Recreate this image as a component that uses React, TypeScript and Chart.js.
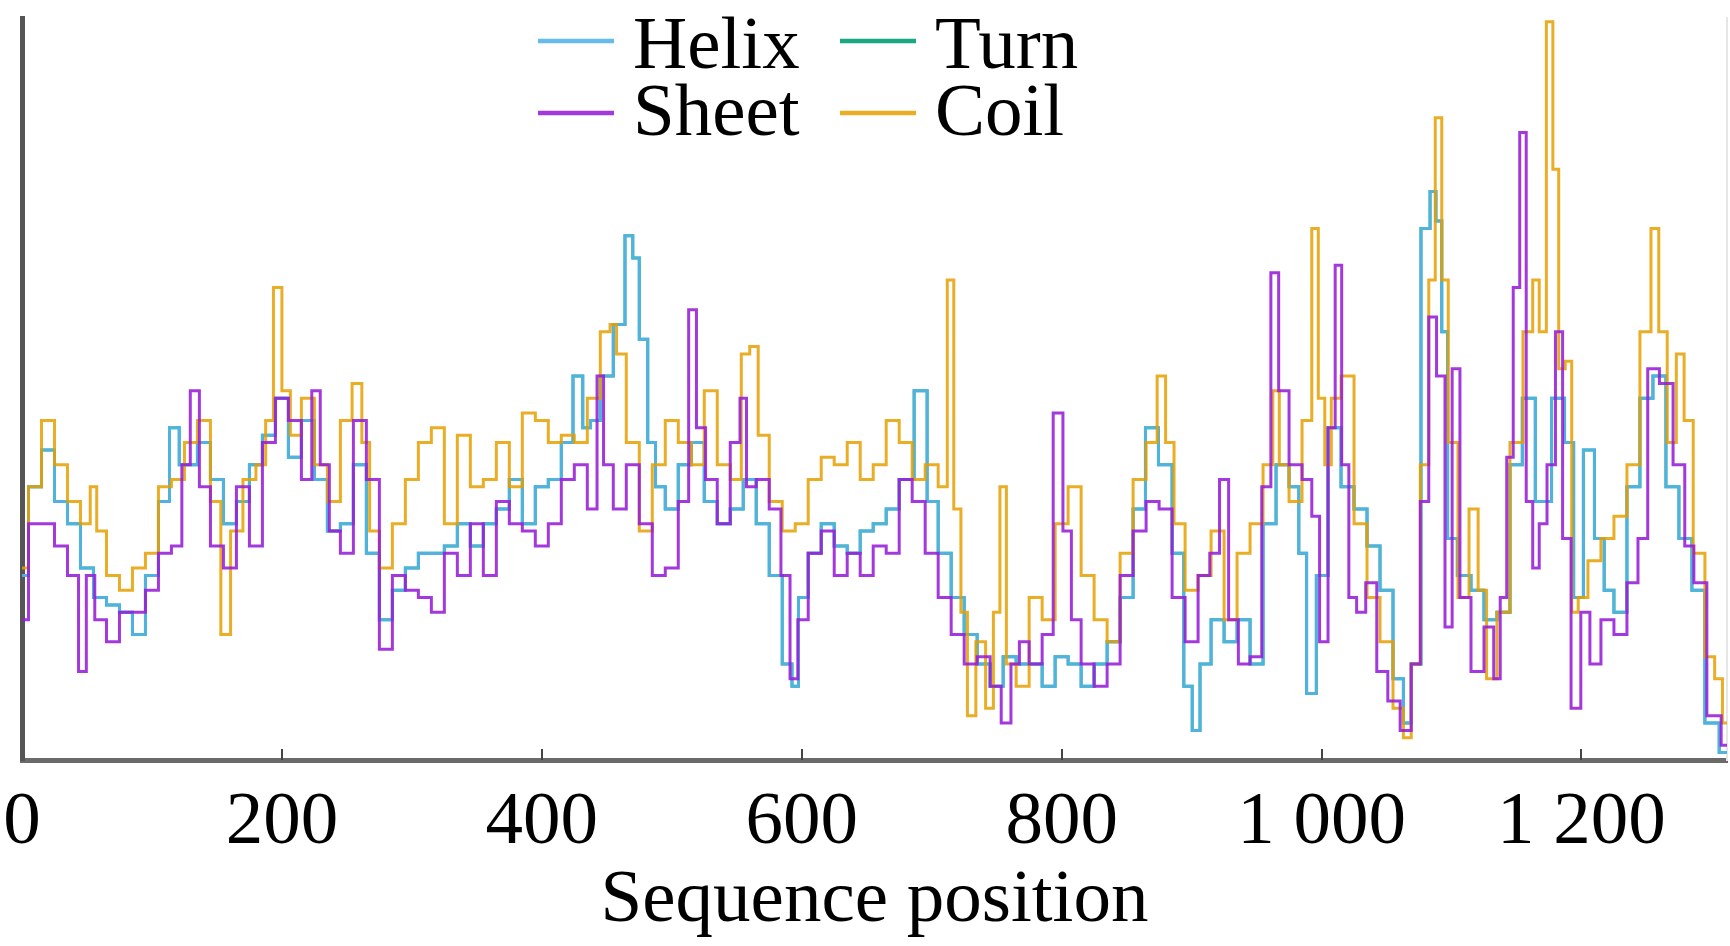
import React, { useEffect, useRef } from 'react';
import { Chart, registerables } from 'chart.js';

Chart.register(...registerables);

type Pt = [number, number];

// Sequence positions for the x-axis tick labels
const xTickValues = [0, 200, 400, 600, 800, 1000, 1200];
const seqLength = 1312;

// [sequence position, propensity (0-100, arbitrary units)]
const helix: Pt[] = [
  [0, 25], [10, 37], [20, 42], [30, 35], [40, 32], [50, 26], [60, 22], [70, 21], [80, 20], [90, 17],
  [100, 25], [110, 35], [117, 45], [125, 40], [130, 40], [140, 43], [150, 38], [160, 32], [170, 35], [180, 40],
  [190, 44], [200, 49], [210, 41], [220, 46], [230, 38], [240, 31], [250, 32], [260, 40], [270, 28], [280, 19],
  [290, 23], [300, 26], [310, 28], [320, 28], [330, 29], [340, 32], [350, 29], [360, 32], [370, 34], [380, 38],
  [390, 32], [400, 37], [410, 38], [420, 43], [428, 52], [435, 45], [440, 46], [450, 52], [460, 59], [468, 71],
  [472, 68], [478, 57], [485, 43], [490, 37], [500, 34], [510, 40], [520, 43], [530, 35], [540, 32], [550, 34],
  [560, 38], [570, 32], [580, 25], [590, 13], [595, 10], [600, 22], [610, 28], [620, 32], [630, 29], [640, 28],
  [650, 31], [660, 32], [670, 34], [680, 38], [693, 50], [700, 35], [710, 28], [720, 22], [730, 17], [740, 13],
  [750, 10], [760, 14], [770, 13], [780, 13], [790, 10], [800, 14], [810, 13], [820, 10], [830, 13], [840, 16],
  [850, 22], [860, 34], [869, 45], [880, 40], [890, 28], [898, 10], [903, 4], [910, 13], [920, 19], [930, 16],
  [940, 19], [950, 13], [960, 32], [970, 40], [980, 37], [985, 28], [992, 9], [1000, 25], [1010, 45], [1020, 37],
  [1030, 34], [1040, 29], [1050, 23], [1060, 11], [1066, 5], [1072, 13], [1081, 72], [1086, 77], [1090, 73], [1095, 58],
  [1099, 30], [1110, 25], [1120, 23], [1130, 19], [1140, 20], [1150, 40], [1159, 49], [1170, 35], [1184, 49], [1190, 43],
  [1198, 22], [1205, 42], [1215, 30], [1220, 23], [1230, 20], [1240, 37], [1250, 49], [1260, 52], [1270, 37], [1280, 30],
  [1290, 23], [1300, 5], [1312, 1],
];

const sheet: Pt[] = [
  [0, 19], [10, 32], [20, 32], [30, 29], [40, 25], [47, 12], [52, 25], [60, 19], [70, 16], [80, 20],
  [90, 20], [100, 23], [110, 28], [120, 29], [126, 40], [133, 50], [140, 37], [150, 29], [160, 26], [170, 37],
  [180, 29], [190, 43], [200, 49], [210, 46], [220, 38], [226, 50], [233, 40], [240, 31], [250, 28], [260, 46],
  [270, 38], [280, 15], [290, 25], [300, 23], [310, 22], [320, 20], [330, 28], [340, 25], [350, 32], [360, 25],
  [370, 35], [380, 32], [390, 31], [400, 29], [410, 32], [420, 38], [430, 40], [440, 34], [445, 52], [450, 40],
  [460, 34], [470, 40], [480, 32], [490, 25], [500, 26], [510, 35], [516, 61], [522, 45], [530, 38], [540, 32],
  [550, 43], [555, 49], [560, 37], [570, 38], [580, 34], [588, 25], [594, 11], [600, 19], [610, 28], [620, 31],
  [630, 25], [640, 28], [650, 25], [660, 29], [670, 28], [680, 38], [690, 35], [700, 28], [710, 22], [720, 17],
  [730, 13], [740, 14], [750, 10], [757, 5], [765, 13], [770, 16], [780, 13], [790, 17], [797, 47], [805, 31],
  [810, 19], [820, 13], [830, 10], [840, 13], [850, 25], [860, 31], [870, 35], [880, 34], [890, 22], [900, 16],
  [910, 25], [918, 28], [925, 38], [932, 19], [940, 13], [950, 14], [958, 37], [964, 66], [970, 50], [980, 40],
  [990, 38], [995, 33], [1002, 16], [1008, 45], [1013, 67], [1018, 40], [1024, 22], [1030, 20], [1038, 24], [1047, 12],
  [1055, 8], [1066, 4], [1072, 13], [1080, 35], [1085, 60], [1092, 52], [1098, 18], [1103, 53], [1110, 22], [1120, 12],
  [1130, 18], [1135, 11], [1140, 22], [1145, 41], [1150, 64], [1155, 85], [1160, 35], [1165, 26], [1170, 32], [1177, 40],
  [1183, 58], [1188, 30], [1196, 7], [1203, 20], [1210, 13], [1220, 19], [1230, 17], [1240, 24], [1247, 30], [1255, 53],
  [1265, 51], [1276, 40], [1283, 29], [1290, 24], [1303, 6], [1312, 2],
];

const coil: Pt[] = [
  [0, 26], [10, 37], [20, 46], [30, 40], [40, 35], [50, 32], [55, 37], [60, 31], [70, 25], [80, 23],
  [90, 26], [100, 28], [110, 37], [120, 38], [130, 43], [140, 46], [150, 35], [156, 17], [165, 31], [175, 38],
  [185, 40], [190, 46], [197, 64], [203, 50], [210, 44], [220, 49], [230, 40], [240, 35], [250, 46], [258, 51],
  [265, 43], [270, 31], [280, 26], [290, 32], [300, 38], [310, 43], [320, 45], [330, 32], [340, 44], [350, 37],
  [360, 38], [370, 43], [380, 37], [390, 47], [400, 46], [410, 43], [420, 44], [430, 43], [440, 49], [450, 58],
  [455, 59], [460, 55], [470, 43], [480, 31], [490, 40], [500, 46], [510, 43], [520, 40], [530, 50], [540, 40],
  [550, 38], [557, 55], [563, 56], [570, 44], [580, 35], [590, 31], [600, 32], [610, 38], [620, 41], [630, 40],
  [640, 43], [650, 38], [660, 40], [670, 46], [680, 43], [690, 38], [700, 40], [710, 37], [714, 65], [720, 34],
  [725, 20], [730, 6], [738, 16], [745, 7], [750, 20], [755, 37], [760, 13], [770, 10], [780, 22], [790, 19],
  [800, 32], [810, 37], [820, 25], [830, 19], [840, 16], [850, 28], [860, 38], [870, 43], [877, 52], [883, 43],
  [890, 32], [900, 23], [910, 25], [920, 31], [930, 19], [940, 28], [950, 32], [960, 40], [965, 50], [970, 40],
  [980, 35], [990, 46], [995, 72], [1000, 49], [1005, 40], [1010, 49], [1020, 52], [1030, 32], [1040, 22], [1050, 16],
  [1060, 7], [1066, 3], [1072, 13], [1080, 40], [1085, 65], [1090, 87], [1095, 65], [1100, 43], [1110, 22], [1117, 34],
  [1124, 23], [1130, 11], [1140, 20], [1150, 43], [1160, 58], [1165, 65], [1170, 58], [1176, 100], [1180, 80], [1185, 53],
  [1190, 54], [1195, 20], [1200, 22], [1210, 27], [1220, 30], [1230, 33], [1240, 40], [1250, 58], [1257, 72], [1262, 58],
  [1270, 43], [1276, 55], [1282, 46], [1290, 28], [1300, 14], [1305, 11], [1312, 5],
];

// Turn is almost entirely hidden beneath Helix in the figure; it follows the same readings.
const turn: Pt[] = helix;

const COLORS = {
  Helix: 'rgba(86, 180, 233, 0.9)',
  Sheet: 'rgba(150, 30, 215, 0.88)',
  Turn: 'rgba(0, 158, 115, 0.9)',
  Coil: 'rgba(230, 159, 0, 0.85)',
};

const FONT_FAMILY = '"Liberation Serif", "Times New Roman", serif';
const FONT_SIZE = 75;

const fmtThousands = (v: number) => String(v).replace(/\B(?=(\d{3})+(?!\d))/g, ' ');

const legendPlugin = {
  id: 'gridLegend',
  afterDraw(chart: any) {
    const ctx = chart.ctx as CanvasRenderingContext2D;
    const items = [
      { label: 'Helix', col: 0, row: 0 },
      { label: 'Turn', col: 1, row: 0 },
      { label: 'Sheet', col: 0, row: 1 },
      { label: 'Coil', col: 1, row: 1 },
    ];
    const colX = [538, 840];
    const lineY = [41, 113];
    const baseY = [68, 135];
    const lineLen = 76;
    const gap = 19;
    ctx.save();
    ctx.font = `${FONT_SIZE}px ${FONT_FAMILY}`;
    ctx.textBaseline = 'alphabetic';
    ctx.textAlign = 'left';
    for (const it of items) {
      const ds = chart.data.datasets.find((d: any) => d.label === it.label);
      const x0 = colX[it.col];
      ctx.strokeStyle = ds ? ds.borderColor : '#000';
      ctx.lineWidth = 4.5;
      ctx.beginPath();
      ctx.moveTo(x0, lineY[it.row]);
      ctx.lineTo(x0 + lineLen, lineY[it.row]);
      ctx.stroke();
      ctx.fillStyle = '#000';
      ctx.fillText(it.label, x0 + lineLen + gap, baseY[it.row]);
    }
    ctx.restore();
  },
};

// small tick marks pointing into the plot, placed by the x scale
const innerTickPlugin = {
  id: 'innerTicks',
  afterDraw(chart: any) {
    const ctx = chart.ctx as CanvasRenderingContext2D;
    const xs = chart.scales.x;
    const bottom = chart.chartArea.bottom;
    ctx.save();
    ctx.strokeStyle = '#444';
    ctx.lineWidth = 2;
    for (const v of xTickValues) {
      if (v === 0) continue;
      const px = Math.round(xs.getPixelForValue(v));
      ctx.beginPath();
      ctx.moveTo(px, bottom - 11);
      ctx.lineTo(px, bottom);
      ctx.stroke();
    }
    ctx.restore();
  },
};

const toXY = (pts: Pt[]) => pts.map(([x, y]) => ({ x, y }));

export default function App() {
  const ref = useRef<HTMLCanvasElement | null>(null);

  useEffect(() => {
    document.body.style.margin = '0';
    document.body.style.overflow = 'hidden';
    const canvas = ref.current;
    if (!canvas) return;
    const lineDs = (label: keyof typeof COLORS, pts: Pt[]) => ({
      label,
      data: toXY(pts),
      borderColor: COLORS[label],
      backgroundColor: COLORS[label],
      borderWidth: 3,
      pointRadius: 0,
      stepped: 'middle' as const,
      fill: false,
      tension: 0,
    });
    const chart = new Chart(canvas, {
      type: 'line',
      data: {
        datasets: [
          lineDs('Sheet', sheet),
          lineDs('Coil', coil),
          lineDs('Helix', helix),
          lineDs('Turn', turn),
        ],
      },
      options: {
        animation: false,
        responsive: false,
        maintainAspectRatio: false,
        layout: { padding: { left: 22, right: 3, top: 18, bottom: 0 } },
        plugins: {
          legend: { display: false },
          title: { display: false },
          tooltip: { enabled: false },
        },
        scales: {
          x: {
            type: 'linear',
            position: 'bottom',
            min: 0,
            max: seqLength,
            afterBuildTicks: (axis: any) => {
              axis.ticks = xTickValues.map((v) => ({ value: v }));
            },
            ticks: {
              color: '#000',
              font: { family: FONT_FAMILY, size: FONT_SIZE, lineHeight: 1 },
              padding: 0,
              maxRotation: 0,
              autoSkip: false,
              includeBounds: false,
              callback: (v: any) => fmtThousands(Number(v)),
            },
            grid: {
              display: true,
              drawOnChartArea: false,
              drawTicks: true,
              tickLength: 26,
              tickColor: 'rgba(0,0,0,0)',
              color: 'rgba(0,0,0,0)',
            },
            border: { display: true, color: '#6a6a6a', width: 5 },
            title: {
              display: true,
              text: 'Sequence position',
              color: '#000',
              font: { family: FONT_FAMILY, size: FONT_SIZE, lineHeight: 1 },
              padding: { top: 3, bottom: 7 },
            },
          },
          y: {
            type: 'linear',
            position: 'left',
            min: 0,
            max: 100.5,
            ticks: { display: false },
            grid: { display: false, drawTicks: false },
            border: { display: true, color: '#555', width: 5 },
          },
          y2: {
            type: 'linear',
            position: 'right',
            min: 0,
            max: 100.5,
            ticks: { display: false },
            grid: { display: false, drawTicks: false },
            border: { display: true, color: '#e6e6e6', width: 2 },
          },
        },
      },
      plugins: [legendPlugin, innerTickPlugin],
    });
    return () => chart.destroy();
  }, []);

  return (
    <div style={{ width: 1730, height: 946, overflow: 'hidden', background: '#fff' }}>
      <canvas ref={ref} width={1730} height={946} style={{ display: 'block', width: 1730, height: 946 }} />
    </div>
  );
}
